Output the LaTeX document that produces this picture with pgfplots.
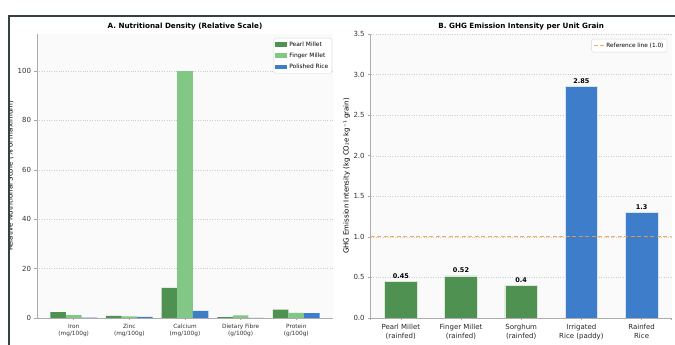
\documentclass[border=0pt]{standalone}
\usepackage{fontspec}
\setmainfont{DejaVu Sans}
\usepackage{pgfplots}
\pgfplotsset{compat=1.18}
\definecolor{pm}{HTML}{4F9150}
\definecolor{fm}{HTML}{82C785}
\definecolor{pr}{HTML}{3D7DC9}
\definecolor{refc}{HTML}{F4A03A}
\definecolor{framec}{HTML}{33433F}
\pgfplotsset{
  mystyle/.style={
    scale only axis,
    height=284pt,
    ymin=0,
    axis x line*=bottom, axis y line*=left,
    axis line style={draw=gray!65, line width=0.9pt},
    tick style={draw=gray!70, line width=0.5pt},
    major tick length=2.5pt,
    tick align=outside,
    ymajorgrids, grid style={dotted, gray!40, line width=0.4pt},
    axis background/.style={fill=gray!4},
    /pgf/number format/assume math mode=true,
    xtick=data,
    every axis title/.style={at={(0.5,1)}, anchor=center, yshift=7.5pt, font=\bfseries\fontsize{7.2}{8}\selectfont},
    yticklabel style={font=\fontsize{7}{8}\selectfont, text=black!80},
    legend cell align=left,
  }
}
\begin{document}
\begin{tikzpicture}
\useasboundingbox (0pt,0pt) rectangle (675pt,345pt);
% Panel A
\begin{axis}[mystyle,
  at={(37pt,27pt)}, anchor=south west, width=296pt,
  xmin=-0.66, xmax=4.66, ymax=115,
  ytick={0,20,40,60,80,100},
  title={A. Nutritional Density (Relative Scale)},
  ylabel={Relative Nutritional Score (\% of maximum)},
  every axis y label/.style={at={(rel axis cs:0,0.5)}, xshift=-26.5pt, rotate=90, anchor=center, font=\fontsize{7}{8}\selectfont},
  xticklabels={{Iron\\(mg/100g)},{Zinc\\(mg/100g)},{Calcium\\(mg/100g)},{Dietary Fibre\\(g/100g)},{Protein\\(g/100g)}},
  xticklabel style={align=center, font=\fontsize{5.8}{7}\selectfont, text=black!80},
  ybar, bar width=0.28,
  legend style={at={(1,1)}, anchor=north east, xshift=-1pt, yshift=-4pt,
    font=\fontsize{5.9}{7}\selectfont, draw=gray!30, rounded corners=1.5pt, fill=white,
    row sep=1.2pt, inner sep=1.5pt},
  legend image code/.code={\fill[#1, sharp corners] (0pt,-2pt) rectangle (12pt,2.5pt);},
]
\addplot[fill=pm, draw=none, bar shift=-0.28] coordinates {(0,2.33) (1,0.90) (2,12.2) (3,0.35) (4,3.37)};
\addlegendentry{Pearl Millet}
\addplot[fill=fm, draw=none, bar shift=0] coordinates {(0,1.13) (1,0.67) (2,100) (3,1.05) (4,2.12)};
\addlegendentry{Finger Millet}
\addplot[fill=pr, draw=none, bar shift=0.28] coordinates {(0,0.20) (1,0.41) (2,2.9) (3,0.06) (4,1.98)};
\addlegendentry{Polished Rice}
\end{axis}
% Panel B
\begin{axis}[mystyle,
  at={(370.7pt,27pt)}, anchor=south west, width=301pt,
  xmin=-0.5, xmax=4.5, ymax=3.5,
  ytick={0,0.5,1,1.5,2,2.5,3,3.5},
  yticklabel style={/pgf/number format/.cd, fixed, fixed zerofill, precision=1},
  title={B. GHG Emission Intensity per Unit Grain},
  ylabel={GHG Emission Intensity (kg CO₂e kg⁻¹ grain)},
  every axis y label/.style={at={(rel axis cs:0,0.5)}, xshift=-24pt, rotate=90, anchor=center, font=\fontsize{7}{8}\selectfont},
  xticklabels={{Pearl Millet\\(rainfed)},{Finger Millet\\(rainfed)},{Sorghum\\(rainfed)},{Irrigated\\Rice (paddy)},{Rainfed\\Rice}},
  xticklabel style={align=center, font=\fontsize{7}{9}\selectfont, text=black!85},
  legend style={at={(1,1)}, anchor=north east, xshift=-4.5pt, yshift=-5pt,
    font=\fontsize{5.8}{7}\selectfont, draw=gray!30, rounded corners=1.5pt, fill=white, inner sep=1.5pt},
  legend image code/.code={\draw[#1, sharp corners] (0pt,0pt) -- (10pt,0pt);},
]
\addplot[ybar, bar width=0.54, bar shift=0, fill=pm, draw=white!80!pm, line width=0.5pt, forget plot,
  nodes near coords, nodes near coords style={font=\bfseries\fontsize{6.5}{7}\selectfont, text=black, yshift=-0.5pt}]
  coordinates {(0,0.45) (1,0.52) (2,0.4)};
\addplot[ybar, bar width=0.54, bar shift=0, fill=pr, draw=white!80!pr, line width=0.5pt, forget plot,
  nodes near coords, nodes near coords style={font=\bfseries\fontsize{6.5}{7}\selectfont, text=black, yshift=-0.5pt}]
  coordinates {(3,2.85) (4,1.3)};
\addplot[refc, line width=1.2pt, opacity=0.85, dash pattern=on 4pt off 2.5pt] coordinates {(-0.5,1) (4.5,1)};
\addlegendentry{Reference line (1.0)}
\end{axis}
% frame of the cropped figure
\fill[white] (0pt,0pt) rectangle (8pt,345pt);
\fill[white] (0pt,329.75pt) rectangle (675pt,345pt);
\draw[framec, line width=1.5pt] (8.75pt,0pt) -- (8.75pt,329pt) -- (675pt,329pt);
\end{tikzpicture}
\end{document}
